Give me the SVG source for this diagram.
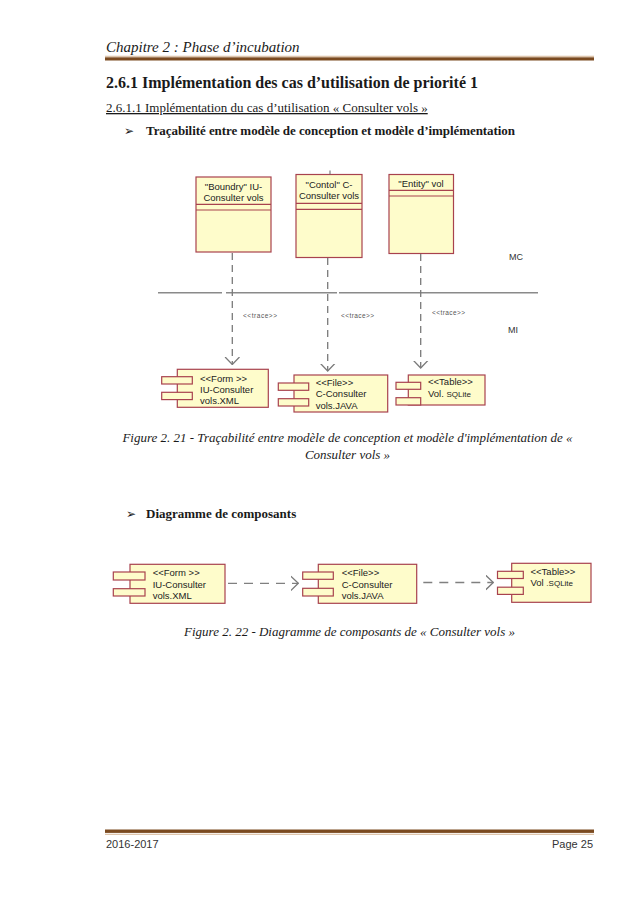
<svg xmlns="http://www.w3.org/2000/svg" width="639" height="903" viewBox="0 0 639 903">
<style>
.serif{font-family:"Liberation Serif","Times New Roman",serif;fill:#1a1a1a}
.it{font-style:italic}
.bd{font-weight:bold}
.cls{fill:#FEFCCB;stroke:#A8424E;stroke-width:1.2}
.dt{font-family:"Liberation Sans",Arial,sans-serif;font-size:9.5px;fill:#222}
.tr{font-family:"Liberation Sans",Arial,sans-serif;font-size:6.5px;fill:#555}
.lbl{font-family:"Liberation Sans",Arial,sans-serif;font-size:9px;fill:#333}
.dash{stroke:#7a7a7a;stroke-width:1.3;stroke-dasharray:7 5;fill:none}
.dash2{stroke:#808080;stroke-width:1.3;stroke-dasharray:9 7;fill:none}
.sep{stroke:#8a8a8a;stroke-width:1.5;fill:none}
.foot{font-family:"Liberation Sans",Arial,sans-serif;font-size:11px;fill:#333}
.bul{font-family:"DejaVu Sans",sans-serif;font-size:12px;fill:#1a1a1a}
</style>
<defs>
<marker id="vee" viewBox="0 0 8 16" refX="7.5" refY="8" markerWidth="8" markerHeight="16" markerUnits="userSpaceOnUse" orient="auto">
<path d="M0,0.8 L7.5,8 L0,15.2" fill="none" stroke="#7a7a7a" stroke-width="1.3"/>
</marker>
</defs>
<rect width="639" height="903" fill="#ffffff"/>

<g id="header">
<text class="serif it" x="106" y="52" font-size="15">Chapitre 2 : Phase d’incubation</text>
<rect x="105" y="55.8" width="489" height="0.9" fill="#D2AE8A"/>
<rect x="105" y="57.3" width="489" height="3.2" fill="#7B4A20"/>
</g>

<g id="headings">
<text class="serif bd" x="106" y="88" font-size="16">2.6.1 Implémentation des cas d’utilisation de priorité 1</text>
<text class="serif" x="106" y="112" font-size="13" text-decoration="underline">2.6.1.1 Implémentation du cas d’utilisation « Consulter vols »</text>
<text class="bul" x="124" y="135">➢</text>
<text class="serif bd" x="146" y="135" font-size="13" textLength="369">Traçabilité entre modèle de conception et modèle d’implémentation</text>
</g>

<g id="sep-line">
<path class="sep" d="M158,292.7 H222 M226,292.7 H337 M339,292.7 H538"/>
<text class="lbl" x="509" y="260">MC</text>
<text class="lbl" x="508" y="333">MI</text>
</g>

<g id="class-boundry">
<rect class="cls" x="196" y="177" width="75" height="75"/>
<path class="cls" d="M196,204.3 H271 M196,210 H271"/>
<text class="dt" x="233.5" y="190" text-anchor="middle">"Boundry" IU-</text>
<text class="dt" x="233.5" y="200.5" text-anchor="middle">Consulter vols</text>
</g>

<g id="class-control">
<rect class="cls" x="296" y="174.5" width="66" height="83"/>
<path class="cls" d="M296,203.3 H362 M296,209.3 H362"/>
<path d="M330,170.5 V174.5" stroke="#666" stroke-width="1"/>
<text class="dt" x="329" y="188" text-anchor="middle">"Contol" C-</text>
<text class="dt" x="329" y="198.5" text-anchor="middle">Consulter vols</text>
</g>

<g id="class-entity">
<rect class="cls" x="389" y="174.5" width="64.5" height="79"/>
<path class="cls" d="M389,190.3 H453.5 M389,196 H453.5"/>
<text class="dt" x="421" y="187" text-anchor="middle">"Entity" vol</text>
</g>

<g id="comp-form-1">
<rect class="cls" x="177.3" y="369.3" width="91" height="38"/>
<rect class="cls" x="161.7" y="376.7" width="30.6" height="7.3"/>
<rect class="cls" x="161.7" y="392.3" width="30.6" height="7.3"/>
<text class="dt" x="200" y="382">&lt;&lt;Form &gt;&gt;</text>
<text class="dt" x="200" y="393">IU-Consulter</text>
<text class="dt" x="200" y="404">vols.XML</text>
</g>

<g id="comp-file-1">
<rect class="cls" x="294" y="375" width="93.7" height="37"/>
<rect class="cls" x="278.3" y="383" width="30.4" height="7.3"/>
<rect class="cls" x="278.3" y="398.7" width="30.4" height="7.3"/>
<text class="dt" x="315.7" y="385.5">&lt;&lt;File&gt;&gt;</text>
<text class="dt" x="315.7" y="397">C-Consulter</text>
<text class="dt" x="315.7" y="409">vols.JAVA</text>
</g>

<g id="comp-table-1">
<rect class="cls" x="408.3" y="375" width="76.7" height="30"/>
<rect class="cls" x="396" y="382.3" width="24.7" height="7"/>
<rect class="cls" x="396" y="397.7" width="24.7" height="7.3"/>
<text class="dt" x="428" y="385">&lt;&lt;Table&gt;&gt;</text>
<text class="dt" x="428" y="396.5">Vol. <tspan font-size="8">SQLite</tspan></text>
</g>

<g id="connectors-trace">
<path class="dash" d="M232.3,253 V364.5" marker-end="url(#vee)"/>
<path class="dash" d="M327.7,258 V371" marker-end="url(#vee)"/>
<path class="dash" d="M420.7,254 V368" marker-end="url(#vee)"/>
<text class="tr" x="243" y="318" textLength="34">&lt;&lt;trace&gt;&gt;</text>
<text class="tr" x="341" y="318" textLength="33">&lt;&lt;trace&gt;&gt;</text>
<text class="tr" x="432" y="315" textLength="33">&lt;&lt;trace&gt;&gt;</text>
</g>

<g id="caption-1">
<text class="serif it" x="347.5" y="442" font-size="13" text-anchor="middle">Figure 2. 21 - Traçabilité entre modèle de conception et modèle d'implémentation de «</text>
<text class="serif it" x="347.5" y="459" font-size="13" text-anchor="middle">Consulter vols »</text>
</g>

<g id="heading-2">
<text class="bul" x="126" y="518">➢</text>
<text class="serif bd" x="146" y="518" font-size="13">Diagramme de composants</text>
</g>

<g id="comp-form-2">
<rect class="cls" x="130" y="564.3" width="95" height="39"/>
<rect class="cls" x="113.3" y="572" width="31.7" height="8"/>
<rect class="cls" x="113.3" y="588.7" width="31.7" height="7.3"/>
<text class="dt" x="152.7" y="576">&lt;&lt;Form &gt;&gt;</text>
<text class="dt" x="152.7" y="587.5">IU-Consulter</text>
<text class="dt" x="152.7" y="599">vols.XML</text>
</g>

<g id="comp-file-2">
<rect class="cls" x="318.3" y="564.3" width="98.4" height="39"/>
<rect class="cls" x="302.7" y="572" width="30.6" height="7.3"/>
<rect class="cls" x="302.7" y="588.3" width="30.6" height="7.7"/>
<text class="dt" x="341.7" y="576">&lt;&lt;File&gt;&gt;</text>
<text class="dt" x="341.7" y="587.5">C-Consulter</text>
<text class="dt" x="341.7" y="599">vols.JAVA</text>
</g>

<g id="comp-table-2">
<rect class="cls" x="511.7" y="563.3" width="79.3" height="39"/>
<rect class="cls" x="497.5" y="571.3" width="25.8" height="7.2"/>
<rect class="cls" x="497.5" y="587.2" width="25.8" height="7.2"/>
<text class="dt" x="530.5" y="575">&lt;&lt;Table&gt;&gt;</text>
<text class="dt" x="530.5" y="586">Vol <tspan font-size="8">.SQLite</tspan></text>
</g>

<g id="connectors-deps">
<path class="dash2" d="M228,583.3 H298.3" marker-end="url(#vee)"/>
<path class="dash2" d="M423.3,582.5 H493.3" marker-end="url(#vee)"/>
</g>

<g id="caption-2">
<text class="serif it" x="349.5" y="636" font-size="13" text-anchor="middle">Figure 2. 22 - Diagramme de composants de « Consulter vols »</text>
</g>

<g id="footer">
<rect x="105" y="829.5" width="489" height="3.4" fill="#7B4A20"/>
<rect x="105" y="833.8" width="489" height="0.9" fill="#D2AE8A"/>
<text class="foot" x="106" y="848">2016-2017</text>
<text class="foot" x="593" y="848" text-anchor="end">Page 25</text>
</g>
</svg>
